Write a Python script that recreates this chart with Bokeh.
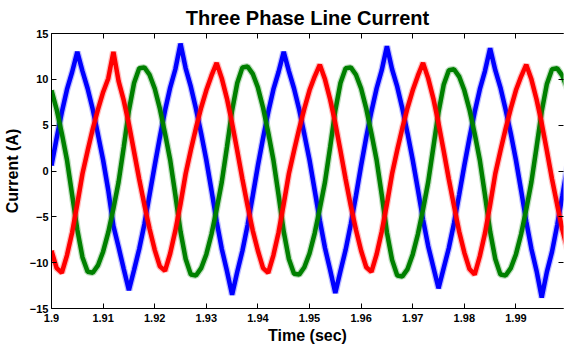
from bokeh.plotting import figure
from bokeh.models import FixedTicker, LinearAxis, Range1d
from bokeh.embed import file_html
from bokeh.resources import INLINE

# sampling grid of the recorded currents (1 ms steps from 1.900 s)
t_start = 1.9
t_step = 0.001
n_samples = 101
time_s = [round(t_start + i * t_step, 3) for i in range(n_samples)]

# phase currents (A) at each 1 ms sample
phase_blue = [
    0.6, 3.6, 6.4, 8.9, 10.8, 13.0, 10.9, 9.0, 6.7, 4.0,
    1.2, -2.1, -6.0, -8.3, -10.7, -13.0, -10.8, -8.5, -5.8, -2.6,
    0.6, 3.7, 6.6, 9.1, 11.1, 13.9, 11.2, 9.2, 6.8, 4.1,
    1.2, -2.1, -5.5, -8.5, -10.9, -13.5, -11.0, -8.7, -5.9, -2.7,
    0.6, 3.6, 6.4, 8.9, 10.8, 13.0, 10.9, 9.0, 6.7, 4.0,
    1.2, -2.1, -5.4, -8.4, -10.8, -13.3, -10.9, -8.6, -5.8, -2.7,
    0.6, 3.7, 6.5, 9.0, 11.0, 13.6, 11.1, 9.2, 6.8, 4.1,
    1.2, -2.0, -5.3, -8.2, -10.5, -12.8, -10.6, -8.4, -5.7, -2.6,
    0.6, 3.6, 6.4, 8.9, 10.9, 13.4, 11.0, 9.1, 6.7, 4.1,
    1.2, -2.1, -5.5, -8.5, -10.9, -13.8, -11.0, -8.8, -5.9, -2.7,
    0.6,
]
phase_green = [
    8.8, 6.7, 4.1, 1.2, -2.6, -6.4, -9.4, -11.0, -11.1, -10.3,
    -8.8, -6.7, -4.1, -1.2, 2.6, 6.6, 9.6, 11.2, 11.3, 10.5,
    9.0, 6.8, 4.1, 1.2, -2.6, -6.6, -9.6, -11.3, -11.4, -10.6,
    -9.1, -6.9, -4.2, -1.2, 2.6, 6.6, 9.6, 11.3, 11.4, 10.6,
    9.1, 6.9, 4.2, 1.2, -2.6, -6.6, -9.6, -11.2, -11.3, -10.5,
    -9.0, -6.8, -4.1, -1.2, 2.6, 6.6, 9.6, 11.2, 11.3, 10.5,
    9.0, 6.8, 4.1, 1.2, -2.6, -6.7, -9.7, -11.4, -11.5, -10.7,
    -9.1, -6.9, -4.2, -1.2, 2.6, 6.4, 9.4, 11.0, 11.1, 10.3,
    8.8, 6.7, 4.1, 1.2, -2.6, -6.6, -9.6, -11.3, -11.4, -10.6,
    -9.1, -6.9, -4.2, -1.2, 2.6, 6.5, 9.5, 11.1, 11.2, 10.4,
    8.9,
]
phase_red = [
    -8.7, -10.6, -11.1, -9.2, -6.7, -3.6, -0.3, 2.2, 4.6, 6.7,
    8.6, 10.1, 13.0, 9.8, 7.7, 5.1, 2.1, -0.9, -3.7, -6.3,
    -8.6, -10.4, -10.9, -9.0, -6.5, -3.6, -0.3, 2.3, 4.7, 6.9,
    8.8, 10.4, 11.8, 10.1, 7.9, 5.2, 2.2, -0.9, -3.8, -6.5,
    -8.7, -10.6, -11.1, -9.2, -6.7, -3.6, -0.3, 2.2, 4.6, 6.8,
    8.8, 10.3, 11.6, 10.0, 7.8, 5.2, 2.2, -0.9, -3.8, -6.4,
    -8.7, -10.5, -11.0, -9.1, -6.6, -3.6, -0.3, 2.3, 4.7, 6.9,
    8.8, 10.4, 11.8, 10.1, 7.9, 5.2, 2.2, -0.9, -3.8, -6.6,
    -8.9, -10.7, -11.3, -9.3, -6.8, -3.7, -0.3, 2.2, 4.6, 6.8,
    8.8, 10.3, 11.6, 10.0, 7.8, 5.2, 2.2, -0.9, -3.7, -6.4,
    -8.6,
]

x_ticks = [1.9, 1.91, 1.92, 1.93, 1.94, 1.95, 1.96, 1.97, 1.98, 1.99]
x_tick_labels = ["1.9", "1.91", "1.92", "1.93", "1.94", "1.95", "1.96", "1.97", "1.98", "1.99"]
y_ticks = [-15, -10, -5, 0, 5, 10, 15]

FONT = "Liberation Sans"

p = figure(
    frame_width=512, frame_height=275,
    x_range=Range1d(1.9, 1.99922), y_range=Range1d(-15, 15),
    output_backend="svg", toolbar_location=None,
    min_border_left=43, min_border_right=1, min_border_top=27, min_border_bottom=32,
    title="Three Phase Line Current",
)
p.background_fill_color = "white"
p.border_fill_color = "white"
p.outline_line_color = None
p.xgrid.visible = False
p.ygrid.visible = False

p.title.text_font = FONT
p.title.text_font_size = "20px"
p.title.text_font_style = "bold"
p.title.align = "center"
p.title.text_color = "black"
p.title.standoff = 9

def style_axis(ax, show_labels=True, show_line=True):
    ax.axis_line_color = "black" if show_line else None
    ax.axis_line_width = 1
    ax.major_tick_in = 5
    ax.major_tick_out = 0
    ax.major_tick_line_color = "black"
    ax.minor_tick_line_color = None
    ax.major_label_text_font = FONT
    ax.major_label_text_font_style = "bold"
    if show_labels:
        ax.major_label_text_font_size = "11px"
        ax.major_label_text_color = "black"
    else:
        ax.major_label_text_font_size = "1px"
        ax.major_label_text_color = None
        ax.major_label_standoff = 0

xax = p.xaxis[0]
xax.ticker = FixedTicker(ticks=x_ticks)
xax.major_label_overrides = dict(zip(x_ticks, x_tick_labels))
style_axis(xax)
xax.major_label_standoff = 5
xax.axis_label = "Time (sec)"
xax.axis_label_text_font = FONT
xax.axis_label_text_font_size = "16px"
xax.axis_label_text_font_style = "bold"
xax.axis_label_text_color = "black"
xax.axis_label_standoff = 2

yax = p.yaxis[0]
yax.ticker = FixedTicker(ticks=y_ticks)
style_axis(yax)
yax.major_label_standoff = 3
yax.axis_label = "Current (A)"
yax.axis_label_text_font = FONT
yax.axis_label_text_font_size = "16px"
yax.axis_label_text_font_style = "bold"
yax.axis_label_text_color = "black"
yax.axis_label_standoff = 6

top_ax = LinearAxis(ticker=FixedTicker(ticks=x_ticks))
style_axis(top_ax, show_labels=False)
p.add_layout(top_ax, "above")

right_ax = LinearAxis(ticker=FixedTicker(ticks=y_ticks))
style_axis(right_ax, show_labels=False, show_line=False)
p.add_layout(right_ax, "right")

for vals, col in ((phase_blue, "#0000FF"), (phase_green, "#008000"), (phase_red, "#FF0000")):
    p.line(time_s, vals, line_color=col, line_width=7, line_alpha=0.25)
    p.line(time_s, vals, line_color=col, line_width=4.5)

open("out.html", "w").write(file_html(p, INLINE))
